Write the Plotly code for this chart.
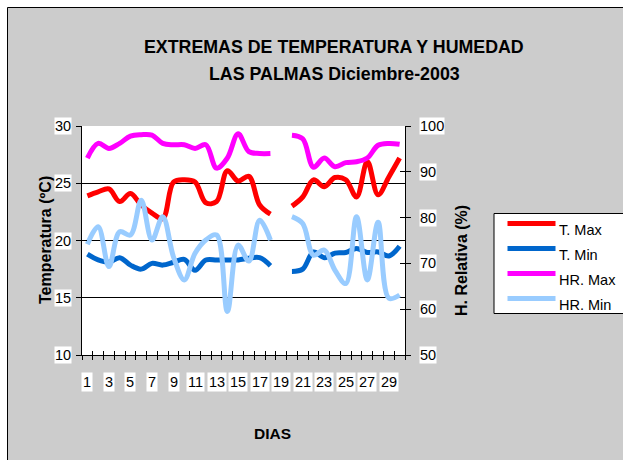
import plotly.graph_objects as go

# Daily extremes, Las Palmas, December 2003 (day 19 has no record)
days = list(range(1, 31))
t_max = [23.9, 24.25, 24.5, 23.4, 24.1, 23.1, 22.4, 21.9, 25.1, 25.3,
         25.1, 23.3, 23.4, 26.1, 25.2, 25.6, 23.1, 22.3, None, 23.0,
         23.8, 25.3, 24.7, 25.5, 25.3, 23.8, 26.9, 24.0, 25.55, 27.2]
t_min = [18.8, 18.3, 18.1, 18.5, 17.85, 17.5, 18.0, 17.85, 18.1, 18.35,
         17.4, 18.3, 18.3, 18.3, 18.3, 18.45, 18.5, 17.8, None, 17.3,
         17.5, 19.0, 18.5, 18.9, 18.95, 19.3, 18.95, 19.0, 18.65, 19.5]
hr_max = [93.0, 96.2, 95.1, 96.2, 97.8, 98.1, 98.0, 96.2, 95.9, 95.9,
          95.1, 95.9, 90.8, 93.0, 98.3, 94.4, 94.0, 94.0, None, 98.0,
          97.2, 91.0, 93.0, 91.1, 92.0, 92.2, 93.0, 95.8, 96.2, 96.0]
hr_min = [74.2, 78.0, 69.3, 76.9, 76.2, 83.8, 75.1, 80.2, 71.4, 66.4,
          72.2, 75.1, 76.2, 59.5, 74.0, 70.5, 79.4, 75.1, None, 80.2,
          78.7, 71.8, 72.9, 68.5, 65.6, 80.2, 66.4, 79.0, 62.4, 63.1]

series_names = ["T. Max", "T. Min", "HR. Max", "HR. Min"]
series_colors = ["#FF0000", "#0066CC", "#FF00FF", "#99CCFF"]

temp_ticks = [10, 15, 20, 25, 30]
hum_ticks = [50, 60, 70, 80, 90, 100]
day_labels = list(range(1, 31, 2))
day_bounds = [d + 0.5 for d in range(0, 31)]

FONT = "Liberation Sans, Arial, sans-serif"
W, H = 623, 460
PL, PR, PT, PB = 82, 405, 126, 355  # plot area edges in pixels


def px_x(px):
    return (px - PL) / (PR - PL)


def px_y(py):
    return (PB - py) / (PB - PT)


fig = go.Figure()
for name, vals, color, axis in zip(series_names, [t_max, t_min, hr_max, hr_min],
                                   series_colors, ["y", "y", "y2", "y2"]):
    fig.add_trace(go.Scatter(
        x=days, y=vals, name=name, mode="lines", yaxis=axis,
        line=dict(color=color, width=5, shape="spline", smoothing=1),
        connectgaps=False, showlegend=False, hoverinfo="skip"))

# empty traces that carry the inner half of the crossing tick marks
fig.add_trace(go.Scatter(x=[None], y=[None], xaxis="x2", yaxis="y", showlegend=False))
fig.add_trace(go.Scatter(x=[None], y=[None], xaxis="x", yaxis="y3", showlegend=False))
fig.add_trace(go.Scatter(x=[None], y=[None], xaxis="x", yaxis="y4", showlegend=False))

common = dict(showticklabels=False, zeroline=False, tickcolor="black", tickwidth=1)

fig.update_layout(
    width=W, height=H,
    margin=dict(l=PL, r=W - PR, t=PT, b=H - PB, autoexpand=False),
    paper_bgcolor="#CCCCCC", plot_bgcolor="white",
    font=dict(family=FONT, size=14.5, color="black"),
    xaxis=dict(range=[0.5, 30.5], tickmode="array", tickvals=day_bounds,
               ticks="outside", ticklen=4, showgrid=False,
               showline=True, linecolor="black", linewidth=1, **common),
    xaxis2=dict(overlaying="x", anchor="y", side="bottom", range=[0.5, 30.5],
                tickmode="array", tickvals=day_bounds, ticks="inside", ticklen=4,
                showgrid=False, showline=False, **common),
    yaxis=dict(range=[10, 30], tickmode="array", tickvals=temp_ticks,
               ticks="outside", ticklen=5, showgrid=True, gridcolor="black",
               gridwidth=1, showline=True, linecolor="black", linewidth=1, **common),
    yaxis2=dict(overlaying="y", side="right", anchor="x", range=[50, 100],
                tickmode="array", tickvals=hum_ticks, ticks="outside", ticklen=5,
                showgrid=False, showline=True, linecolor="black", linewidth=1, **common),
    yaxis3=dict(overlaying="y", side="left", anchor="x", range=[10, 30],
                tickmode="array", tickvals=temp_ticks, ticks="inside", ticklen=5,
                showgrid=False, showline=False, **common),
    yaxis4=dict(overlaying="y", side="right", anchor="x", range=[50, 100],
                tickmode="array", tickvals=hum_ticks, ticks="inside", ticklen=5,
                showgrid=False, showline=False, **common),
)

shapes = [
    # white strip outside the chart frame plus the frame itself
    dict(type="rect", xref="paper", yref="paper", layer="below",
         x0=px_x(-5), x1=px_x(W + 5), y0=px_y(7.5), y1=px_y(-5),
         fillcolor="white", line=dict(width=0)),
    dict(type="rect", xref="paper", yref="paper", layer="below",
         x0=px_x(-5), x1=px_x(7.5), y0=px_y(H + 5), y1=px_y(-5),
         fillcolor="white", line=dict(width=0)),
    dict(type="rect", xref="paper", yref="paper", layer="below",
         x0=px_x(7.5), x1=px_x(W + 40), y0=px_y(H + 40), y1=px_y(7.5),
         fillcolor="rgba(0,0,0,0)", line=dict(color="black", width=1)),
    # legend box
    dict(type="rect", xref="paper", yref="paper",
         x0=px_x(494), x1=px_x(W + 40), y0=px_y(313.5), y1=px_y(213.5),
         fillcolor="white", line=dict(color="black", width=1)),
]

annotations = []
legend_rows = [223.5, 248.5, 273.5, 298.5]
for name, color, ly in zip(series_names, series_colors, legend_rows):
    shapes.append(dict(type="line", xref="paper", yref="paper",
                       x0=px_x(507.5), x1=px_x(555.5), y0=px_y(ly), y1=px_y(ly),
                       line=dict(color=color, width=5)))
    annotations.append(dict(text=name, xref="paper", yref="paper",
                            x=px_x(557), y=px_y(ly + 6.5), xanchor="left",
                            yanchor="middle", showarrow=False,
                            font=dict(size=14.5)))

# tick labels on white boxes
for v in temp_ticks:
    annotations.append(dict(text=str(v), xref="paper", yref="y", x=px_x(72), y=v,
                            xanchor="right", yanchor="middle", showarrow=False,
                            bgcolor="white", borderpad=0))
for v in hum_ticks:
    annotations.append(dict(text=str(v), xref="paper", yref="y2", x=px_x(418.5), y=v,
                            xanchor="left", yanchor="middle", showarrow=False,
                            bgcolor="white", borderpad=0))
for d in day_labels:
    annotations.append(dict(text=str(d), xref="x", yref="paper", x=d, y=px_y(381.5),
                            xanchor="center", yanchor="middle", showarrow=False,
                            bgcolor="white", borderpad=1))

# titles
annotations += [
    dict(text="<b>EXTREMAS DE TEMPERATURA Y HUMEDAD</b>", xref="paper", yref="paper",
         x=px_x(333.5), y=px_y(47.5), xanchor="center", yanchor="middle",
         showarrow=False, font=dict(size=17.8)),
    dict(text="<b>LAS PALMAS Diciembre-2003</b>", xref="paper", yref="paper",
         x=px_x(334), y=px_y(74), xanchor="center", yanchor="middle",
         showarrow=False, font=dict(size=17.8)),
    dict(text="<b>DIAS</b>", xref="paper", yref="paper",
         x=px_x(272), y=px_y(433), xanchor="center", yanchor="middle",
         showarrow=False, font=dict(size=15.5)),
    dict(text="<b>Temperatura (ºC)</b>", xref="paper", yref="paper",
         x=px_x(45), y=px_y(240), xanchor="center", yanchor="middle",
         textangle=-90, showarrow=False, font=dict(size=16)),
    dict(text="<b>H. Relativa (%)</b>", xref="paper", yref="paper",
         x=px_x(461), y=px_y(261), xanchor="center", yanchor="middle",
         textangle=-90, showarrow=False, font=dict(size=16)),
]

fig.update_layout(shapes=shapes, annotations=annotations)
fig.write_html("out.html")
